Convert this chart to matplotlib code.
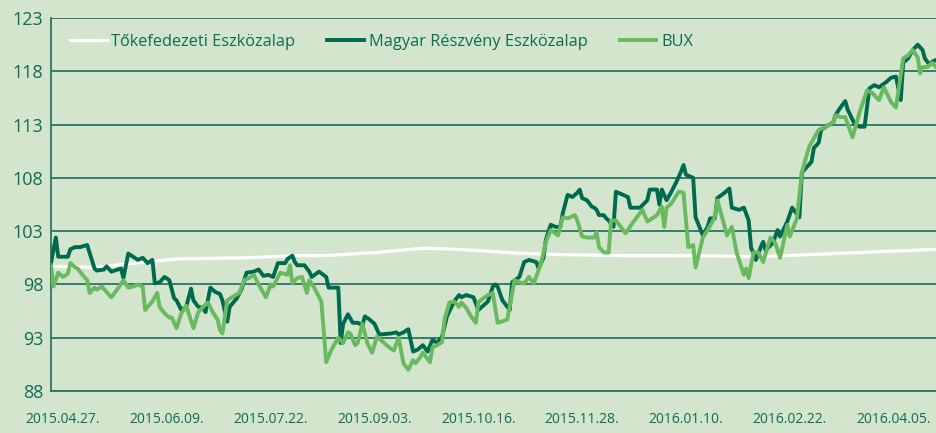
import pandas as pd
import matplotlib.pyplot as plt

# days counted from 2015.04.27.
start = pd.Timestamp("2015-04-27")

toke_days = [-5, 13, 34, 48, 76, 96, 108, 130, 149, 163, 177, 191, 206, 231, 264, 289, 330, 362]
toke_vals = [99.7, 99.6, 100.1, 100.4, 100.5, 100.7, 100.7, 101.0, 101.4, 101.3, 101.1, 100.9,
             100.8, 100.7, 100.7, 100.6, 101.0, 101.3]

magyar_days = [-5, -3, -2, 2, 3, 5, 7, 10, 13, 14, 17, 18, 20, 24, 25, 27, 29, 31, 33, 35,
               37, 38, 40, 42, 44, 46, 47, 49, 51, 53, 54, 56, 58, 59, 61, 63, 65, 66, 68, 69,
               72, 74, 76, 79, 81, 83, 85, 87, 89, 92, 93, 95, 96, 97, 100, 102, 103, 106, 109, 110,
               114, 115, 116, 118, 120, 122, 124, 125, 127, 129, 131, 136, 138, 139, 141, 143, 145, 147, 149, 151,
               153, 155, 157, 159, 162, 164, 165, 167, 170, 172, 176, 178, 179, 180, 182, 185, 186, 189, 191, 193,
               196, 197, 199, 200, 202, 204, 206, 207, 209, 211, 213, 214, 215, 217, 219, 220, 221, 222, 224, 225,
               226, 228, 229, 232, 234, 235, 239, 242, 243, 246, 247, 248, 250, 252, 254, 256, 257, 258, 261, 262,
               265, 267, 268, 270, 271, 274, 276, 277, 280, 282, 284, 285, 286, 287, 289, 290, 291, 294, 296, 297,
               300, 302, 305, 306, 308, 310, 311, 313, 314, 316, 319, 320, 322, 324, 325, 328, 330, 332, 334, 336,
               338, 341, 343, 345, 347, 348, 350, 352, 354, 356, 357, 359, 360, 362]
magyar_vals = [100.0, 102.4, 100.6, 100.6, 101.3, 101.5, 101.5, 101.7, 99.5, 99.3, 99.4, 99.7, 99.2, 99.5, 98.6, 100.9, 100.6, 100.3, 100.5, 100.0,
               100.3, 98.1, 98.2, 98.7, 98.4, 96.7, 96.5, 95.6, 95.9, 97.6, 96.5, 95.9, 95.8, 95.4, 97.7, 97.3, 97.1, 96.5, 94.5, 95.9,
               96.7, 97.6, 99.1, 99.2, 99.4, 98.8, 98.9, 98.7, 100.0, 100.0, 100.4, 100.7, 100.1, 99.8, 99.8, 99.2, 98.7, 99.2, 98.7, 97.7,
               97.7, 92.5, 94.3, 95.2, 94.4, 94.4, 94.2, 95.0, 94.7, 94.3, 93.3, 93.4, 93.5, 93.3, 93.5, 93.8, 91.7, 91.9, 92.3, 91.7,
               92.8, 92.5, 93.1, 95.0, 96.4, 97.0, 96.8, 97.0, 96.8, 95.6, 96.4, 97.8, 98.0, 97.8, 96.5, 95.6, 98.2, 98.7, 100.1, 100.3,
               100.1, 99.5, 100.5, 102.2, 103.6, 103.4, 103.4, 104.7, 106.4, 106.2, 106.6, 106.9, 106.1, 105.9, 105.3, 105.2, 105.0, 104.5, 104.5, 104.2,
               104.0, 103.4, 106.7, 106.4, 106.2, 105.2, 105.2, 105.9, 106.9, 106.9, 105.5, 106.9, 105.9, 106.7, 107.6, 108.6, 109.2, 108.3, 108.0, 104.3,
               102.6, 103.4, 104.2, 104.2, 106.1, 106.6, 107.0, 105.2, 105.0, 105.2, 104.0, 101.4, 101.0, 100.3, 101.5, 102.0, 101.2, 101.9, 103.1, 102.5,
               103.9, 105.2, 104.3, 108.5, 109.0, 109.5, 110.8, 111.3, 112.5, 112.8, 113.2, 113.9, 114.6, 115.2, 114.4, 113.0, 112.8, 112.8, 116.4, 116.7,
               116.5, 117.0, 117.4, 117.5, 115.3, 118.8, 119.2, 120.0, 120.5, 120.0, 119.2, 118.6, 118.9, 119.1]

bux_days = [-5, -4, -2, 0, 2, 3, 5, 6, 8, 10, 11, 13, 14, 16, 18, 20, 23, 25, 27, 29,
            31, 33, 34, 37, 39, 40, 42, 44, 45, 47, 49, 51, 54, 56, 58, 60, 62, 64, 65, 66,
            68, 70, 73, 75, 77, 79, 81, 84, 86, 87, 90, 93, 94, 95, 97, 99, 101, 102, 104, 107,
            109, 111, 114, 116, 118, 119, 121, 122, 124, 126, 128, 130, 133, 135, 137, 139, 141, 143, 145, 146,
            148, 149, 152, 153, 155, 157, 158, 160, 162, 164, 165, 167, 169, 171, 172, 174, 176, 178, 180, 184,
            187, 189, 191, 193, 195, 198, 200, 202, 205, 207, 209, 212, 213, 215, 217, 220, 221, 222, 224, 226,
            227, 229, 233, 236, 240, 242, 246, 248, 249, 250, 252, 255, 257, 258, 259, 261, 262, 265, 267, 270,
            271, 273, 275, 277, 278, 279, 282, 283, 284, 286, 288, 290, 293, 295, 297, 300, 301, 304, 306, 309,
            313, 316, 319, 320, 322, 324, 327, 330, 333, 335, 338, 340, 343, 345, 348, 350, 352, 354, 355, 356,
            358, 360, 362]
bux_vals = [99.8, 97.8, 99.1, 98.7, 99.0, 100.0, 99.6, 99.5, 98.9, 98.4, 97.2, 97.7, 97.5, 97.8, 97.3, 96.8, 97.7, 98.4, 97.7, 97.8,
            98.0, 97.8, 95.6, 96.4, 97.2, 95.9, 95.3, 94.9, 94.9, 93.9, 95.3, 96.0, 93.9, 95.4, 95.9, 96.3, 95.4, 94.7, 93.7, 93.4,
            96.5, 96.8, 97.2, 98.4, 98.6, 98.9, 98.0, 96.8, 98.0, 97.8, 99.1, 98.9, 99.8, 98.1, 98.6, 98.7, 97.2, 98.4, 97.7, 96.4,
            90.7, 91.8, 93.0, 92.5, 93.5, 93.4, 92.3, 92.5, 94.3, 92.5, 91.6, 93.1, 92.5, 92.1, 91.8, 93.0, 90.6, 90.0, 90.9, 90.6,
            91.2, 91.6, 90.7, 92.1, 92.3, 92.6, 94.7, 96.3, 96.4, 95.9, 96.3, 95.8, 95.0, 94.4, 96.3, 96.7, 97.0, 97.2, 94.4, 94.7,
            98.4, 98.2, 98.1, 98.7, 98.1, 100.0, 102.0, 103.1, 102.6, 104.3, 104.2, 104.5, 104.0, 102.5, 102.4, 102.4, 102.9, 101.5, 101.0, 101.0,
            104.0, 104.0, 102.8, 103.8, 105.0, 103.9, 104.5, 105.3, 103.4, 105.2, 105.6, 106.7, 106.6, 104.0, 101.5, 101.7, 99.6, 102.4, 103.1, 104.3,
            105.9, 104.3, 102.6, 103.4, 102.2, 101.0, 98.9, 99.5, 98.6, 101.0, 101.0, 100.1, 102.4, 101.9, 100.5, 103.6, 102.5, 104.2, 108.5, 110.9,
            112.5, 112.8, 113.2, 113.9, 113.7, 113.7, 111.8, 114.2, 116.2, 116.0, 115.3, 116.5, 115.1, 114.6, 119.2, 119.5, 120.0, 119.3, 117.8, 118.4,
            118.4, 118.8, 118.3]

tick_days = [0, 43, 86, 129, 172, 215, 258, 301, 344]
tick_labels = ["2015.04.27.", "2015.06.09.", "2015.07.22.", "2015.09.03.", "2015.10.16.",
               "2015.11.28.", "2016.01.10.", "2016.02.22.", "2016.04.05."]
y_ticks = [88, 93, 98, 103, 108, 113, 118, 123]

bg = "#d3e5cc"
txt = "#0e6b55"
grid = "#2a7563"

plt.rcParams['font.family'] = ['Open Sans', 'DejaVu Sans']

fig = plt.figure(figsize=(9.37, 4.33), dpi=100, facecolor=bg)
ax = fig.add_axes([51 / 937, 42 / 433, 886 / 937, 373 / 433], facecolor=bg)

to_dates = lambda d: start + pd.to_timedelta(d, unit="D")

ax.plot(to_dates(toke_days), toke_vals, color="white", lw=2.3, label="Tőkefedezeti Eszközalap", zorder=3)
ax.plot(to_dates(magyar_days), magyar_vals, color="#006a4e", lw=2.8, label="Magyar Részvény Eszközalap", zorder=4)
ax.plot(to_dates(bux_days), bux_vals, color="#68b95f", lw=2.8, label="BUX", zorder=5)

ax.set_xlim(to_dates(-5), to_dates(362))
ax.set_ylim(88, 123)
ax.set_yticks(y_ticks)
ax.set_xticks(to_dates(tick_days))
ax.set_xticklabels(tick_labels)
ax.grid(axis="y", color=grid, lw=1.3)
ax.set_axisbelow(True)

for s in ["top", "right"]:
    ax.spines[s].set_visible(False)
for s in ["left", "bottom"]:
    ax.spines[s].set_color(grid)
    ax.spines[s].set_linewidth(1.3)

ax.tick_params(axis="y", length=0, pad=5.5, labelsize=13, labelcolor=txt)
ax.tick_params(axis="x", length=0, pad=15, labelsize=10, labelcolor=txt)

leg = ax.legend(loc="center left", bbox_to_anchor=(0.0214, 0.9357), ncol=3, frameon=False,
                fontsize=11.8, handlelength=2.25, columnspacing=1.95, handletextpad=0.28,
                borderpad=0, borderaxespad=0)
for t in leg.get_texts():
    t.set_color(txt)

fig.savefig("out.png", dpi=100, facecolor=bg)
